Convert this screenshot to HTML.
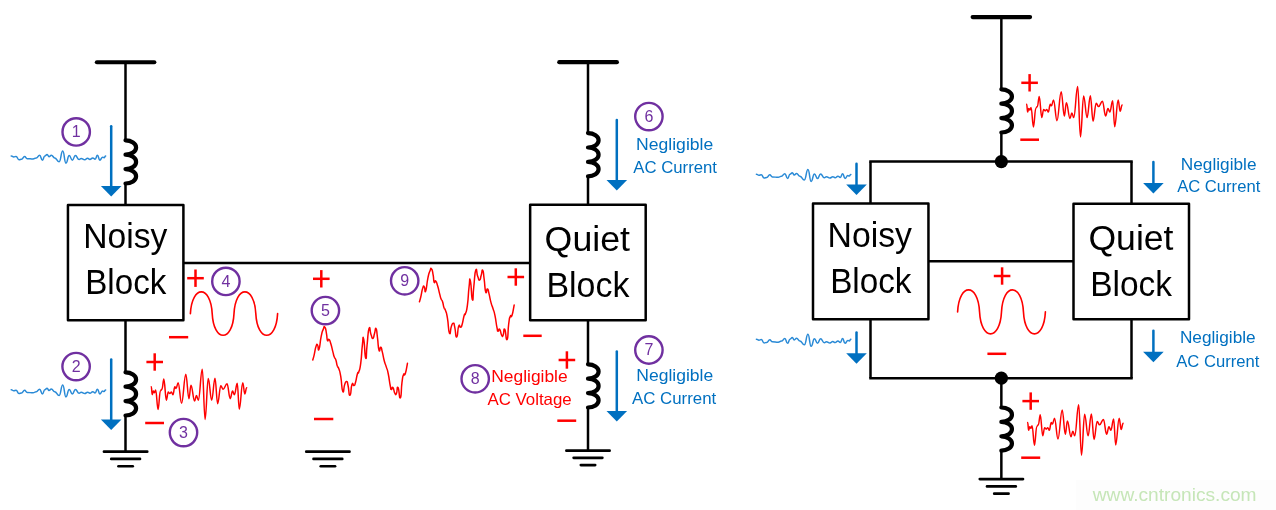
<!DOCTYPE html><html><head><meta charset="utf-8"><title>Diagram</title>
<style>html,body{margin:0;padding:0;background:#fff;}svg{display:block;will-change:transform;}text{font-family:"Liberation Sans",sans-serif;}</style></head><body>
<svg width="1276" height="510" viewBox="0 0 1276 510">
<rect width="1276" height="510" fill="#fff"/>
<line x1="96.9" y1="62.25" x2="154.3" y2="62.25" stroke="#000" stroke-width="4.2" stroke-linecap="round"/>
<line x1="125.5" y1="62" x2="125.5" y2="141" stroke="#000" stroke-width="2.5" stroke-linecap="butt"/>
<path d="M125.5,140.3A10.6,7.2 0 0 1 125.5,154.7A10.6,7.2 0 0 1 125.5,169.1A10.6,7.2 0 0 1 125.5,183.5" fill="none" stroke="#000" stroke-width="4.2" stroke-linecap="round" stroke-linejoin="round"/>
<line x1="125.5" y1="183" x2="125.5" y2="205" stroke="#000" stroke-width="2.5" stroke-linecap="butt"/>
<rect x="67.95" y="204.9" width="115.45" height="115.4" fill="#fff" stroke="#000" stroke-width="2.5" stroke-linejoin="round"/>
<line x1="125.5" y1="320" x2="125.5" y2="372" stroke="#000" stroke-width="2.5" stroke-linecap="butt"/>
<path d="M125.5,372.3A10.6,7.2 0 0 1 125.5,386.7A10.6,7.2 0 0 1 125.5,401.1A10.6,7.2 0 0 1 125.5,415.5" fill="none" stroke="#000" stroke-width="4.2" stroke-linecap="round" stroke-linejoin="round"/>
<line x1="125.5" y1="415" x2="125.5" y2="451.67" stroke="#000" stroke-width="2.5" stroke-linecap="butt"/>
<line x1="103.95" y1="451.67" x2="147.25" y2="451.67" stroke="#000" stroke-width="2.6" stroke-linecap="round"/>
<line x1="111.2" y1="458.9" x2="140" y2="458.9" stroke="#000" stroke-width="2.6" stroke-linecap="round"/>
<line x1="118.4" y1="466.2" x2="132.8" y2="466.2" stroke="#000" stroke-width="2.6" stroke-linecap="round"/>
<line x1="183.5" y1="262.9" x2="530" y2="262.9" stroke="#000" stroke-width="2.5" stroke-linecap="butt"/>
<line x1="559.28" y1="62.15" x2="616.88" y2="62.15" stroke="#000" stroke-width="4.2" stroke-linecap="round"/>
<line x1="588" y1="62" x2="588" y2="134" stroke="#000" stroke-width="2.5" stroke-linecap="butt"/>
<path d="M588,133.1A10.6,7.2 0 0 1 588,147.5A10.6,7.2 0 0 1 588,161.9A10.6,7.2 0 0 1 588,176.3" fill="none" stroke="#000" stroke-width="4.2" stroke-linecap="round" stroke-linejoin="round"/>
<line x1="588" y1="176" x2="588" y2="205" stroke="#000" stroke-width="2.5" stroke-linecap="butt"/>
<rect x="530.15" y="204.85" width="115.55" height="115.45" fill="#fff" stroke="#000" stroke-width="2.5" stroke-linejoin="round"/>
<line x1="588" y1="320" x2="588" y2="364" stroke="#000" stroke-width="2.5" stroke-linecap="butt"/>
<path d="M588,364.3A10.6,7.2 0 0 1 588,378.7A10.6,7.2 0 0 1 588,393.1A10.6,7.2 0 0 1 588,407.5" fill="none" stroke="#000" stroke-width="4.2" stroke-linecap="round" stroke-linejoin="round"/>
<line x1="588" y1="407" x2="588" y2="450.65" stroke="#000" stroke-width="2.5" stroke-linecap="butt"/>
<line x1="566.35" y1="450.65" x2="609.65" y2="450.65" stroke="#000" stroke-width="2.6" stroke-linecap="round"/>
<line x1="573.6" y1="457.85" x2="602.4" y2="457.85" stroke="#000" stroke-width="2.6" stroke-linecap="round"/>
<line x1="580.8" y1="465.1" x2="595.2" y2="465.1" stroke="#000" stroke-width="2.6" stroke-linecap="round"/>
<line x1="306.25" y1="451.67" x2="349.55" y2="451.67" stroke="#000" stroke-width="2.6" stroke-linecap="round"/>
<line x1="313.5" y1="458.9" x2="342.3" y2="458.9" stroke="#000" stroke-width="2.6" stroke-linecap="round"/>
<line x1="320.7" y1="466.2" x2="335.1" y2="466.2" stroke="#000" stroke-width="2.6" stroke-linecap="round"/>
<text x="83.28" y="247.8" font-size="34.5" fill="#000" textLength="84.06" lengthAdjust="spacingAndGlyphs">Noisy</text>
<text x="85.28" y="293.7" font-size="34.5" fill="#000" textLength="81.06" lengthAdjust="spacingAndGlyphs">Block</text>
<text x="544.6" y="251" font-size="34.5" fill="#000" textLength="85.4" lengthAdjust="spacingAndGlyphs">Quiet</text>
<text x="546.46" y="297.3" font-size="34.5" fill="#000" textLength="82.96" lengthAdjust="spacingAndGlyphs">Block</text>
<line x1="111.2" y1="126.2" x2="111.2" y2="187.4" stroke="#0070c0" stroke-width="2.5" stroke-linecap="round"/>
<polygon points="100.9,186.1 121.5,186.1 111.2,196.6" fill="#0070c0"/>
<line x1="111.2" y1="359.6" x2="111.2" y2="420.8" stroke="#0070c0" stroke-width="2.5" stroke-linecap="round"/>
<polygon points="100.9,419.5 121.5,419.5 111.2,430" fill="#0070c0"/>
<line x1="616.8" y1="120" x2="616.8" y2="181.4" stroke="#0070c0" stroke-width="2.5" stroke-linecap="round"/>
<polygon points="606.5,180.1 627.1,180.1 616.8,190.6" fill="#0070c0"/>
<line x1="616.8" y1="351.6" x2="616.8" y2="412.3" stroke="#0070c0" stroke-width="2.5" stroke-linecap="round"/>
<polygon points="606.5,411 627.1,411 616.8,421.5" fill="#0070c0"/>
<circle cx="76.2" cy="131.9" r="13.7" fill="none" stroke="#7030a0" stroke-width="2.4"/>
<text x="76.2" y="137.2" font-size="16" fill="#7030a0" text-anchor="middle">1</text>
<circle cx="76.1" cy="366.6" r="13.7" fill="none" stroke="#7030a0" stroke-width="2.4"/>
<text x="76.1" y="371.9" font-size="16" fill="#7030a0" text-anchor="middle">2</text>
<circle cx="183.5" cy="432.6" r="13.7" fill="none" stroke="#7030a0" stroke-width="2.4"/>
<text x="183.5" y="437.9" font-size="16" fill="#7030a0" text-anchor="middle">3</text>
<circle cx="225.9" cy="281.4" r="13.7" fill="none" stroke="#7030a0" stroke-width="2.4"/>
<text x="225.9" y="286.7" font-size="16" fill="#7030a0" text-anchor="middle">4</text>
<circle cx="325.4" cy="310.6" r="13.7" fill="none" stroke="#7030a0" stroke-width="2.4"/>
<text x="325.4" y="315.9" font-size="16" fill="#7030a0" text-anchor="middle">5</text>
<circle cx="648.9" cy="116.6" r="13.7" fill="none" stroke="#7030a0" stroke-width="2.4"/>
<text x="648.9" y="121.9" font-size="16" fill="#7030a0" text-anchor="middle">6</text>
<circle cx="648.9" cy="350" r="13.7" fill="none" stroke="#7030a0" stroke-width="2.4"/>
<text x="648.9" y="355.3" font-size="16" fill="#7030a0" text-anchor="middle">7</text>
<circle cx="475.2" cy="378.8" r="13.7" fill="none" stroke="#7030a0" stroke-width="2.4"/>
<text x="475.2" y="384.1" font-size="16" fill="#7030a0" text-anchor="middle">8</text>
<circle cx="404.7" cy="280.8" r="13.7" fill="none" stroke="#7030a0" stroke-width="2.4"/>
<text x="404.7" y="286.1" font-size="16" fill="#7030a0" text-anchor="middle">9</text>
<path d="M11.2,156C12.47,156 12.47,156.94 13.74,156.94C14.91,156.94 14.91,156.38 16.09,156.38C17.5,156.38 17.5,159.76 18.91,159.76C20.23,159.76 20.23,159.2 21.55,159.2C23.05,159.2 23.05,156.56 24.56,156.56C25.87,156.56 25.87,158.63 27.19,158.63C30.11,158.63 30.11,159.01 33.02,159.01C34.67,159.01 34.67,157.88 36.31,157.88C37.96,157.88 37.96,155.34 39.61,155.34C41.02,155.34 41.02,160.14 42.43,160.14C43.61,160.14 43.61,156 44.78,156C45.96,156 45.96,154.4 47.13,154.4C48.07,154.4 48.07,156.75 49.01,156.75C50.19,156.75 50.19,155.15 51.37,155.15C53.01,155.15 53.01,157.88 54.66,157.88C56.92,157.88 56.92,161.64 59.17,161.64C60.96,161.64 60.96,151.11 62.75,151.11C64.35,151.11 64.35,163.15 65.95,163.15C67.59,163.15 67.59,155.62 69.24,155.62C70.79,155.62 70.79,160.14 72.34,160.14C73.85,160.14 73.85,155.62 75.36,155.62C77.24,155.62 77.24,159.57 79.12,159.57C80.15,159.57 80.15,158.45 81.19,158.45C82.97,158.45 82.97,159.76 84.76,159.76C86.17,159.76 86.17,158.35 87.58,158.35C88.76,158.35 88.76,159.39 89.94,159.39C91.35,159.39 91.35,157.88 92.76,157.88C93.93,157.88 93.93,159.2 95.11,159.2C96.29,159.2 96.29,155.34 97.46,155.34C98.64,155.34 98.64,160.14 99.81,160.14C101.23,160.14 101.23,157.22 102.64,157.22C103.34,157.22 103.34,157.69 104.05,157.69C104.85,157.69 104.85,156.09 105.65,156.09" fill="none" stroke="#2a8ad6" stroke-width="1.5" stroke-linecap="round" stroke-linejoin="round"/>
<path d="M11.2,389.8C12.47,389.8 12.47,390.74 13.74,390.74C14.91,390.74 14.91,390.18 16.09,390.18C17.5,390.18 17.5,393.56 18.91,393.56C20.23,393.56 20.23,393 21.55,393C23.05,393 23.05,390.36 24.56,390.36C25.87,390.36 25.87,392.43 27.19,392.43C30.11,392.43 30.11,392.81 33.02,392.81C34.67,392.81 34.67,391.68 36.31,391.68C37.96,391.68 37.96,389.14 39.61,389.14C41.02,389.14 41.02,393.94 42.43,393.94C43.61,393.94 43.61,389.8 44.78,389.8C45.96,389.8 45.96,388.2 47.13,388.2C48.07,388.2 48.07,390.55 49.01,390.55C50.19,390.55 50.19,388.95 51.37,388.95C53.01,388.95 53.01,391.68 54.66,391.68C56.92,391.68 56.92,395.44 59.17,395.44C60.96,395.44 60.96,384.91 62.75,384.91C64.35,384.91 64.35,396.95 65.95,396.95C67.59,396.95 67.59,389.42 69.24,389.42C70.79,389.42 70.79,393.94 72.34,393.94C73.85,393.94 73.85,389.42 75.36,389.42C77.24,389.42 77.24,393.37 79.12,393.37C80.15,393.37 80.15,392.25 81.19,392.25C82.97,392.25 82.97,393.56 84.76,393.56C86.17,393.56 86.17,392.15 87.58,392.15C88.76,392.15 88.76,393.19 89.94,393.19C91.35,393.19 91.35,391.68 92.76,391.68C93.93,391.68 93.93,393 95.11,393C96.29,393 96.29,389.14 97.46,389.14C98.64,389.14 98.64,393.94 99.81,393.94C101.23,393.94 101.23,391.02 102.64,391.02C103.34,391.02 103.34,391.49 104.05,391.49C104.85,391.49 104.85,389.89 105.65,389.89" fill="none" stroke="#2a8ad6" stroke-width="1.5" stroke-linecap="round" stroke-linejoin="round"/>
<line x1="146.4" y1="362" x2="163" y2="362" stroke="#ff0000" stroke-width="2.5" stroke-linecap="butt"/>
<line x1="154.7" y1="353.3" x2="154.7" y2="370.7" stroke="#ff0000" stroke-width="2.5" stroke-linecap="butt"/>
<line x1="145.2" y1="423" x2="164" y2="423" stroke="#ff0000" stroke-width="2.5" stroke-linecap="butt"/>
<path d="M151.29,386.86C151.67,386.86 151.86,394.71 152.24,394.71C152.67,394.71 152.89,391.1 153.33,391.1C153.77,391.1 153.99,392.67 154.43,392.67C154.93,392.67 155.18,390 155.69,390C156.63,390 157.1,409.61 158.04,409.61C158.98,409.61 159.45,390.78 160.39,390.78C161.02,390.78 161.33,389.22 161.96,389.22C162.71,389.22 163.09,379.02 163.84,379.02C164.85,379.02 165.35,400.2 166.35,400.2C167.11,400.2 167.48,392.04 168.24,392.04C168.86,392.04 169.18,393.61 169.8,393.61C170.43,393.61 170.75,392.04 171.37,392.04C172,392.04 172.31,394.71 172.94,394.71C173.69,394.71 174.07,386.86 174.82,386.86C175.33,386.86 175.58,388.43 176.08,388.43C176.89,388.43 177.3,382.63 178.12,382.63C179.5,382.63 180.19,403.33 181.57,403.33C183.26,403.33 184.11,374.31 185.8,374.31C187.06,374.31 187.69,398.63 188.94,398.63C189.76,398.63 190.16,385.29 190.98,385.29C192.42,385.29 193.15,400.98 194.59,400.98C195.34,400.98 195.72,395.49 196.47,395.49C197.22,395.49 197.6,400.2 198.35,400.2C199.92,400.2 200.71,369.14 202.27,369.14C203.4,369.14 203.97,419.49 205.1,419.49C206.35,419.49 206.98,378.55 208.24,378.55C209.62,378.55 210.31,400.2 211.69,400.2C213,400.2 213.66,378.24 214.98,378.24C216.05,378.24 216.58,403.8 217.65,403.8C218.9,403.8 219.53,385.76 220.78,385.76C221.73,385.76 222.2,389.22 223.14,389.22C224.71,389.22 225.49,383.73 227.06,383.73C228.31,383.73 228.94,398.63 230.2,398.63C231.14,398.63 231.61,391.1 232.55,391.1C233.3,391.1 233.68,394.71 234.43,394.71C235.56,394.71 236.13,383.25 237.25,383.25C238.07,383.25 238.48,409.29 239.29,409.29C240.67,409.29 241.36,382.63 242.75,382.63C243.56,382.63 243.97,393.92 244.78,393.92C245.54,393.92 245.91,387.65 246.67,387.65" fill="none" stroke="#ff0000" stroke-width="1.5" stroke-linecap="round" stroke-linejoin="round"/>
<line x1="187.2" y1="278.2" x2="203.8" y2="278.2" stroke="#ff0000" stroke-width="2.5" stroke-linecap="butt"/>
<line x1="195.5" y1="269.5" x2="195.5" y2="286.9" stroke="#ff0000" stroke-width="2.5" stroke-linecap="butt"/>
<line x1="169" y1="337.2" x2="188.2" y2="337.2" stroke="#ff0000" stroke-width="2.5" stroke-linecap="butt"/>
<path d="M190.4,313.6C191.93,284.67 210.67,284.67 212.2,313.6C213.73,342.53 232.47,342.53 234,313.6C235.53,284.67 254.27,284.67 255.8,313.6C257.33,342.53 276.07,342.53 277.6,313.6" fill="none" stroke="#ff0000" stroke-width="1.6" stroke-linecap="round" stroke-linejoin="round"/>
<line x1="313" y1="278.8" x2="329.6" y2="278.8" stroke="#ff0000" stroke-width="2.5" stroke-linecap="butt"/>
<line x1="321.3" y1="270.1" x2="321.3" y2="287.5" stroke="#ff0000" stroke-width="2.5" stroke-linecap="butt"/>
<line x1="314" y1="419" x2="333.3" y2="419" stroke="#ff0000" stroke-width="2.5" stroke-linecap="butt"/>
<path d="M312.75,360C313.2,358.37 313.01,359.67 314.12,355.1C315.23,350.52 314.9,349.54 316.08,346.27C317.25,343.01 316.67,344.31 317.65,345.29C318.63,346.27 317.84,352.16 319.02,349.22C320.2,346.27 319.8,343.01 321.18,336.47C322.55,329.93 321.9,332.68 323.14,329.61C324.38,326.54 323.79,325.95 324.9,327.25C326.01,328.56 325.62,329.15 326.47,333.53C327.32,337.91 326.6,338.43 327.45,340.39C328.3,342.35 327.84,338.1 329.02,339.41C330.2,340.72 329.67,340.07 330.98,344.31C332.29,348.56 331.83,347.91 332.94,352.16C334.05,356.41 333.33,354.44 334.31,357.06C335.29,359.67 334.9,357.06 335.88,360C336.86,362.94 336.27,362.94 337.25,365.88C338.24,368.82 337.65,365.23 338.82,368.82C340,372.42 339.48,369.15 340.78,376.67C342.09,384.18 341.44,388.76 342.75,391.37C344.05,393.99 343.4,387.78 344.71,384.51C346.01,381.24 345.56,381.24 346.67,381.57C347.78,381.9 346.93,380.92 348.04,385.49C349.15,390.07 348.69,395.62 350,395.29C351.31,394.97 350.65,387.78 351.96,384.51C353.27,381.24 352.75,386.14 353.92,385.49C355.1,384.84 354.31,386.47 355.49,382.55C356.67,378.63 356.34,377.32 357.45,373.73C358.56,370.13 357.71,375.36 358.82,371.76C359.93,368.17 359.61,371.76 360.78,362.94C361.96,354.12 361.37,353.14 362.35,345.29C363.33,337.45 362.61,335.16 363.73,339.41C364.84,343.66 364.58,356.08 365.69,358.04C366.8,360 365.95,355.1 367.06,345.29C368.17,335.49 367.71,332.22 369.02,328.63C370.33,325.03 369.67,331.24 370.98,334.51C372.29,337.78 371.76,338.76 372.94,338.43C374.12,338.1 373.46,336.8 374.51,333.53C375.56,330.26 375.1,327.32 376.08,328.63C377.06,329.93 376.47,330.26 377.45,337.45C378.43,344.64 377.91,346.93 379.02,350.2C380.13,353.46 379.67,346.6 380.78,347.25C381.9,347.91 381.18,347.58 382.35,352.16C383.53,356.73 383.01,356.08 384.31,360.98C385.62,365.88 384.97,362.61 386.27,366.86C387.58,371.11 386.93,367.52 388.24,373.73C389.54,379.93 389.15,380.26 390.2,385.49C391.24,390.72 390.46,388.76 391.37,389.41C392.29,390.07 391.76,386.14 392.94,387.45C394.12,388.76 393.73,391.37 394.9,393.33C396.08,395.29 395.42,395.29 396.47,393.33C397.52,391.37 396.73,385.95 398.04,387.45C399.35,388.95 399.08,399.48 400.39,397.84C401.7,396.21 400.92,390.26 401.96,382.55C403.01,374.84 402.42,377.65 403.53,374.71C404.64,371.76 403.99,377.52 405.29,373.73C406.6,369.93 406.73,366.8 407.45,363.33" fill="none" stroke="#ff0000" stroke-width="1.5" stroke-linecap="round" stroke-linejoin="round"/>
<path d="M419.45,301.7C419.9,300.07 419.71,301.37 420.82,296.8C421.93,292.22 421.6,291.24 422.78,287.97C423.95,284.71 423.37,286.01 424.35,286.99C425.33,287.97 424.54,293.86 425.72,290.92C426.9,287.97 426.5,284.71 427.88,278.17C429.25,271.63 428.6,274.38 429.84,271.31C431.08,268.24 430.49,267.65 431.6,268.95C432.71,270.26 432.32,270.85 433.17,275.23C434.02,279.61 433.3,280.13 434.15,282.09C435,284.05 434.54,279.8 435.72,281.11C436.9,282.42 436.37,281.77 437.68,286.01C438.99,290.26 438.53,289.61 439.64,293.86C440.75,298.11 440.03,296.14 441.01,298.76C441.99,301.37 441.6,298.76 442.58,301.7C443.56,304.64 442.97,304.64 443.95,307.58C444.94,310.52 444.35,306.93 445.52,310.52C446.7,314.12 446.18,310.85 447.48,318.37C448.79,325.88 448.14,330.46 449.45,333.07C450.75,335.69 450.1,329.48 451.41,326.21C452.71,322.94 452.26,322.94 453.37,323.27C454.48,323.6 453.63,322.62 454.74,327.19C455.85,331.77 455.39,337.32 456.7,336.99C458.01,336.67 457.35,329.48 458.66,326.21C459.97,322.94 459.45,327.84 460.62,327.19C461.8,326.54 461.01,328.17 462.19,324.25C463.37,320.33 463.04,319.02 464.15,315.43C465.26,311.83 464.41,317.06 465.52,313.46C466.63,309.87 466.31,313.46 467.48,304.64C468.66,295.82 468.07,294.84 469.05,286.99C470.03,279.15 469.31,276.86 470.43,281.11C471.54,285.36 471.28,297.78 472.39,299.74C473.5,301.7 472.65,296.8 473.76,286.99C474.87,277.19 474.41,273.92 475.72,270.33C477.03,266.73 476.37,272.94 477.68,276.21C478.99,279.48 478.46,280.46 479.64,280.13C480.82,279.8 480.16,278.5 481.21,275.23C482.26,271.96 481.8,269.02 482.78,270.33C483.76,271.63 483.17,271.96 484.15,279.15C485.13,286.34 484.61,288.63 485.72,291.9C486.83,295.16 486.37,288.3 487.48,288.95C488.6,289.61 487.88,289.28 489.05,293.86C490.23,298.43 489.71,297.78 491.01,302.68C492.32,307.58 491.67,304.31 492.97,308.56C494.28,312.81 493.63,309.22 494.94,315.43C496.24,321.63 495.85,321.96 496.9,327.19C497.94,332.42 497.16,330.46 498.07,331.11C498.99,331.77 498.46,327.84 499.64,329.15C500.82,330.46 500.43,333.07 501.6,335.03C502.78,336.99 502.12,336.99 503.17,335.03C504.22,333.07 503.43,327.65 504.74,329.15C506.05,330.65 505.78,341.18 507.09,339.54C508.4,337.91 507.62,331.96 508.66,324.25C509.71,316.54 509.12,319.35 510.23,316.41C511.34,313.46 510.69,319.22 511.99,315.43C513.3,311.63 513.43,308.5 514.15,305.03" fill="none" stroke="#ff0000" stroke-width="1.5" stroke-linecap="round" stroke-linejoin="round"/>
<line x1="507.5" y1="277" x2="524.1" y2="277" stroke="#ff0000" stroke-width="2.5" stroke-linecap="butt"/>
<line x1="515.8" y1="268.3" x2="515.8" y2="285.7" stroke="#ff0000" stroke-width="2.5" stroke-linecap="butt"/>
<line x1="523.3" y1="335.8" x2="541.7" y2="335.8" stroke="#ff0000" stroke-width="2.5" stroke-linecap="butt"/>
<line x1="558.6" y1="360" x2="575.2" y2="360" stroke="#ff0000" stroke-width="2.5" stroke-linecap="butt"/>
<line x1="566.9" y1="351.3" x2="566.9" y2="368.7" stroke="#ff0000" stroke-width="2.5" stroke-linecap="butt"/>
<line x1="557.3" y1="420.7" x2="576.2" y2="420.7" stroke="#ff0000" stroke-width="2.5" stroke-linecap="butt"/>
<text x="636.1" y="149.8" font-size="16.5" fill="#0070c0" textLength="77.14" lengthAdjust="spacingAndGlyphs">Negligible</text>
<text x="633.24" y="172.7" font-size="16.5" fill="#0070c0" textLength="83.76" lengthAdjust="spacingAndGlyphs">AC Current</text>
<text x="636.26" y="381.2" font-size="16.5" fill="#0070c0" textLength="76.98" lengthAdjust="spacingAndGlyphs">Negligible</text>
<text x="631.92" y="404.1" font-size="16.5" fill="#0070c0" textLength="84.34" lengthAdjust="spacingAndGlyphs">AC Current</text>
<text x="491.26" y="382" font-size="16.5" fill="#ff0000" textLength="76.4" lengthAdjust="spacingAndGlyphs">Negligible</text>
<text x="487.42" y="404.5" font-size="16.5" fill="#ff0000" textLength="84.32" lengthAdjust="spacingAndGlyphs">AC Voltage</text>
<line x1="972.65" y1="17.05" x2="1030.05" y2="17.05" stroke="#000" stroke-width="4.2" stroke-linecap="round"/>
<line x1="1001.35" y1="17" x2="1001.35" y2="90" stroke="#000" stroke-width="2.5" stroke-linecap="butt"/>
<path d="M1001.35,89.3A10.6,7.2 0 0 1 1001.35,103.7A10.6,7.2 0 0 1 1001.35,118.1A10.6,7.2 0 0 1 1001.35,132.5" fill="none" stroke="#000" stroke-width="4.2" stroke-linecap="round" stroke-linejoin="round"/>
<line x1="1001.35" y1="132" x2="1001.35" y2="161.6" stroke="#000" stroke-width="2.5" stroke-linecap="butt"/>
<line x1="869.25" y1="161.6" x2="1132.75" y2="161.6" stroke="#000" stroke-width="2.5" stroke-linecap="butt"/>
<line x1="870.5" y1="161.6" x2="870.5" y2="204" stroke="#000" stroke-width="2.5" stroke-linecap="butt"/>
<line x1="1131.5" y1="161.6" x2="1131.5" y2="204" stroke="#000" stroke-width="2.5" stroke-linecap="butt"/>
<rect x="813" y="203.6" width="115.45" height="115.55" fill="#fff" stroke="#000" stroke-width="2.5" stroke-linejoin="round"/>
<rect x="1073.5" y="203.8" width="115.5" height="115.5" fill="#fff" stroke="#000" stroke-width="2.5" stroke-linejoin="round"/>
<line x1="929" y1="261.3" x2="1074" y2="261.3" stroke="#000" stroke-width="2.5" stroke-linecap="butt"/>
<line x1="870.5" y1="319" x2="870.5" y2="378.15" stroke="#000" stroke-width="2.5" stroke-linecap="butt"/>
<line x1="1131.5" y1="319" x2="1131.5" y2="378.15" stroke="#000" stroke-width="2.5" stroke-linecap="butt"/>
<line x1="869.25" y1="378.15" x2="1132.75" y2="378.15" stroke="#000" stroke-width="2.5" stroke-linecap="butt"/>
<circle cx="1001.35" cy="161.7" r="6.6" fill="#000"/>
<circle cx="1001.35" cy="378.2" r="6.6" fill="#000"/>
<line x1="1001.35" y1="378" x2="1001.35" y2="408" stroke="#000" stroke-width="2.5" stroke-linecap="butt"/>
<path d="M1001.35,407.5A10.6,7.2 0 0 1 1001.35,421.9A10.6,7.2 0 0 1 1001.35,436.3A10.6,7.2 0 0 1 1001.35,450.7" fill="none" stroke="#000" stroke-width="4.2" stroke-linecap="round" stroke-linejoin="round"/>
<line x1="1001.35" y1="450" x2="1001.35" y2="479.1" stroke="#000" stroke-width="2.5" stroke-linecap="butt"/>
<line x1="979.75" y1="479.1" x2="1023.05" y2="479.1" stroke="#000" stroke-width="2.6" stroke-linecap="round"/>
<line x1="987" y1="486.4" x2="1015.8" y2="486.4" stroke="#000" stroke-width="2.6" stroke-linecap="round"/>
<line x1="994.2" y1="493.65" x2="1008.6" y2="493.65" stroke="#000" stroke-width="2.6" stroke-linecap="round"/>
<text x="827.54" y="247.2" font-size="34.5" fill="#000" textLength="84.46" lengthAdjust="spacingAndGlyphs">Noisy</text>
<text x="830.2" y="293.1" font-size="34.5" fill="#000" textLength="81.3" lengthAdjust="spacingAndGlyphs">Block</text>
<text x="1088.44" y="250.1" font-size="34.5" fill="#000" textLength="85.06" lengthAdjust="spacingAndGlyphs">Quiet</text>
<text x="1090.2" y="296.3" font-size="34.5" fill="#000" textLength="81.8" lengthAdjust="spacingAndGlyphs">Block</text>
<line x1="856.5" y1="163.7" x2="856.5" y2="185.9" stroke="#0070c0" stroke-width="2.5" stroke-linecap="round"/>
<polygon points="846.2,184.6 866.8,184.6 856.5,195.1" fill="#0070c0"/>
<line x1="856.5" y1="332.4" x2="856.5" y2="354.5" stroke="#0070c0" stroke-width="2.5" stroke-linecap="round"/>
<polygon points="846.2,353.2 866.8,353.2 856.5,363.7" fill="#0070c0"/>
<line x1="1153.4" y1="162.1" x2="1153.4" y2="184.4" stroke="#0070c0" stroke-width="2.5" stroke-linecap="round"/>
<polygon points="1143.1,183.1 1163.7,183.1 1153.4,193.6" fill="#0070c0"/>
<line x1="1153.4" y1="330.8" x2="1153.4" y2="353.1" stroke="#0070c0" stroke-width="2.5" stroke-linecap="round"/>
<polygon points="1143.1,351.8 1163.7,351.8 1153.4,362.3" fill="#0070c0"/>
<path d="M756.4,174.3C757.67,174.3 757.67,175.24 758.94,175.24C760.11,175.24 760.11,174.68 761.29,174.68C762.7,174.68 762.7,178.06 764.11,178.06C765.43,178.06 765.43,177.5 766.75,177.5C768.25,177.5 768.25,174.86 769.76,174.86C771.07,174.86 771.07,176.93 772.39,176.93C775.31,176.93 775.31,177.31 778.22,177.31C779.87,177.31 779.87,176.18 781.51,176.18C783.16,176.18 783.16,173.64 784.81,173.64C786.22,173.64 786.22,178.44 787.63,178.44C788.81,178.44 788.81,174.3 789.98,174.3C791.16,174.3 791.16,172.7 792.33,172.7C793.27,172.7 793.27,175.05 794.21,175.05C795.39,175.05 795.39,173.45 796.57,173.45C798.21,173.45 798.21,176.18 799.86,176.18C802.12,176.18 802.12,179.94 804.37,179.94C806.16,179.94 806.16,169.41 807.95,169.41C809.55,169.41 809.55,181.45 811.15,181.45C812.79,181.45 812.79,173.92 814.44,173.92C815.99,173.92 815.99,178.44 817.54,178.44C819.05,178.44 819.05,173.92 820.56,173.92C822.44,173.92 822.44,177.87 824.32,177.87C825.35,177.87 825.35,176.75 826.39,176.75C828.17,176.75 828.17,178.06 829.96,178.06C831.37,178.06 831.37,176.65 832.78,176.65C833.96,176.65 833.96,177.69 835.14,177.69C836.55,177.69 836.55,176.18 837.96,176.18C839.13,176.18 839.13,177.5 840.31,177.5C841.49,177.5 841.49,173.64 842.66,173.64C843.84,173.64 843.84,178.44 845.01,178.44C846.43,178.44 846.43,175.52 847.84,175.52C848.54,175.52 848.54,175.99 849.25,175.99C850.05,175.99 850.05,174.39 850.85,174.39" fill="none" stroke="#2a8ad6" stroke-width="1.5" stroke-linecap="round" stroke-linejoin="round"/>
<path d="M756.4,339.2C757.67,339.2 757.67,340.14 758.94,340.14C760.11,340.14 760.11,339.58 761.29,339.58C762.7,339.58 762.7,342.96 764.11,342.96C765.43,342.96 765.43,342.4 766.75,342.4C768.25,342.4 768.25,339.76 769.76,339.76C771.07,339.76 771.07,341.83 772.39,341.83C775.31,341.83 775.31,342.21 778.22,342.21C779.87,342.21 779.87,341.08 781.51,341.08C783.16,341.08 783.16,338.54 784.81,338.54C786.22,338.54 786.22,343.34 787.63,343.34C788.81,343.34 788.81,339.2 789.98,339.2C791.16,339.2 791.16,337.6 792.33,337.6C793.27,337.6 793.27,339.95 794.21,339.95C795.39,339.95 795.39,338.35 796.57,338.35C798.21,338.35 798.21,341.08 799.86,341.08C802.12,341.08 802.12,344.84 804.37,344.84C806.16,344.84 806.16,334.31 807.95,334.31C809.55,334.31 809.55,346.35 811.15,346.35C812.79,346.35 812.79,338.82 814.44,338.82C815.99,338.82 815.99,343.34 817.54,343.34C819.05,343.34 819.05,338.82 820.56,338.82C822.44,338.82 822.44,342.77 824.32,342.77C825.35,342.77 825.35,341.65 826.39,341.65C828.17,341.65 828.17,342.96 829.96,342.96C831.37,342.96 831.37,341.55 832.78,341.55C833.96,341.55 833.96,342.59 835.14,342.59C836.55,342.59 836.55,341.08 837.96,341.08C839.13,341.08 839.13,342.4 840.31,342.4C841.49,342.4 841.49,338.54 842.66,338.54C843.84,338.54 843.84,343.34 845.01,343.34C846.43,343.34 846.43,340.42 847.84,340.42C848.54,340.42 848.54,340.89 849.25,340.89C850.05,340.89 850.05,339.29 850.85,339.29" fill="none" stroke="#2a8ad6" stroke-width="1.5" stroke-linecap="round" stroke-linejoin="round"/>
<line x1="1021.3" y1="82.8" x2="1037.9" y2="82.8" stroke="#ff0000" stroke-width="2.5" stroke-linecap="butt"/>
<line x1="1029.6" y1="74.1" x2="1029.6" y2="91.5" stroke="#ff0000" stroke-width="2.5" stroke-linecap="butt"/>
<line x1="1020.3" y1="139.7" x2="1039" y2="139.7" stroke="#ff0000" stroke-width="2.5" stroke-linecap="butt"/>
<path d="M1026.69,104.26C1027.07,104.26 1027.26,112.11 1027.64,112.11C1028.07,112.11 1028.29,108.5 1028.73,108.5C1029.17,108.5 1029.39,110.07 1029.83,110.07C1030.33,110.07 1030.58,107.4 1031.09,107.4C1032.03,107.4 1032.5,127.01 1033.44,127.01C1034.38,127.01 1034.85,108.18 1035.79,108.18C1036.42,108.18 1036.73,106.62 1037.36,106.62C1038.11,106.62 1038.49,96.42 1039.24,96.42C1040.25,96.42 1040.75,117.6 1041.75,117.6C1042.51,117.6 1042.88,109.44 1043.64,109.44C1044.26,109.44 1044.58,111.01 1045.2,111.01C1045.83,111.01 1046.15,109.44 1046.77,109.44C1047.4,109.44 1047.71,112.11 1048.34,112.11C1049.09,112.11 1049.47,104.26 1050.22,104.26C1050.73,104.26 1050.98,105.83 1051.48,105.83C1052.29,105.83 1052.7,100.03 1053.52,100.03C1054.9,100.03 1055.59,120.73 1056.97,120.73C1058.66,120.73 1059.51,91.71 1061.2,91.71C1062.46,91.71 1063.09,116.03 1064.34,116.03C1065.16,116.03 1065.56,102.69 1066.38,102.69C1067.82,102.69 1068.55,118.38 1069.99,118.38C1070.74,118.38 1071.12,112.89 1071.87,112.89C1072.62,112.89 1073,117.6 1073.75,117.6C1075.32,117.6 1076.11,86.54 1077.67,86.54C1078.8,86.54 1079.37,136.89 1080.5,136.89C1081.75,136.89 1082.38,95.95 1083.64,95.95C1085.02,95.95 1085.71,117.6 1087.09,117.6C1088.4,117.6 1089.06,95.64 1090.38,95.64C1091.45,95.64 1091.98,121.2 1093.05,121.2C1094.3,121.2 1094.93,103.16 1096.18,103.16C1097.13,103.16 1097.6,106.62 1098.54,106.62C1100.11,106.62 1100.89,101.13 1102.46,101.13C1103.71,101.13 1104.34,116.03 1105.6,116.03C1106.54,116.03 1107.01,108.5 1107.95,108.5C1108.7,108.5 1109.08,112.11 1109.83,112.11C1110.96,112.11 1111.53,100.65 1112.65,100.65C1113.47,100.65 1113.88,126.69 1114.69,126.69C1116.07,126.69 1116.76,100.03 1118.15,100.03C1118.96,100.03 1119.37,111.32 1120.18,111.32C1120.94,111.32 1121.31,105.05 1122.07,105.05" fill="none" stroke="#ff0000" stroke-width="1.5" stroke-linecap="round" stroke-linejoin="round"/>
<line x1="1022.4" y1="401.1" x2="1039" y2="401.1" stroke="#ff0000" stroke-width="2.5" stroke-linecap="butt"/>
<line x1="1030.7" y1="392.4" x2="1030.7" y2="409.8" stroke="#ff0000" stroke-width="2.5" stroke-linecap="butt"/>
<line x1="1021.2" y1="457.7" x2="1040.2" y2="457.7" stroke="#ff0000" stroke-width="2.5" stroke-linecap="butt"/>
<path d="M1027.69,422.51C1028.07,422.51 1028.26,430.36 1028.64,430.36C1029.07,430.36 1029.29,426.75 1029.73,426.75C1030.17,426.75 1030.39,428.32 1030.83,428.32C1031.33,428.32 1031.58,425.65 1032.09,425.65C1033.03,425.65 1033.5,445.26 1034.44,445.26C1035.38,445.26 1035.85,426.43 1036.79,426.43C1037.42,426.43 1037.73,424.87 1038.36,424.87C1039.11,424.87 1039.49,414.67 1040.24,414.67C1041.25,414.67 1041.75,435.85 1042.75,435.85C1043.51,435.85 1043.88,427.69 1044.64,427.69C1045.26,427.69 1045.58,429.26 1046.2,429.26C1046.83,429.26 1047.15,427.69 1047.77,427.69C1048.4,427.69 1048.71,430.36 1049.34,430.36C1050.09,430.36 1050.47,422.51 1051.22,422.51C1051.73,422.51 1051.98,424.08 1052.48,424.08C1053.29,424.08 1053.7,418.28 1054.52,418.28C1055.9,418.28 1056.59,438.98 1057.97,438.98C1059.66,438.98 1060.51,409.96 1062.2,409.96C1063.46,409.96 1064.09,434.28 1065.34,434.28C1066.16,434.28 1066.56,420.94 1067.38,420.94C1068.82,420.94 1069.55,436.63 1070.99,436.63C1071.74,436.63 1072.12,431.14 1072.87,431.14C1073.62,431.14 1074,435.85 1074.75,435.85C1076.32,435.85 1077.11,404.79 1078.67,404.79C1079.8,404.79 1080.37,455.14 1081.5,455.14C1082.75,455.14 1083.38,414.2 1084.64,414.2C1086.02,414.2 1086.71,435.85 1088.09,435.85C1089.4,435.85 1090.06,413.89 1091.38,413.89C1092.45,413.89 1092.98,439.45 1094.05,439.45C1095.3,439.45 1095.93,421.41 1097.18,421.41C1098.13,421.41 1098.6,424.87 1099.54,424.87C1101.11,424.87 1101.89,419.38 1103.46,419.38C1104.71,419.38 1105.34,434.28 1106.6,434.28C1107.54,434.28 1108.01,426.75 1108.95,426.75C1109.7,426.75 1110.08,430.36 1110.83,430.36C1111.96,430.36 1112.53,418.9 1113.65,418.9C1114.47,418.9 1114.88,444.94 1115.69,444.94C1117.07,444.94 1117.76,418.28 1119.15,418.28C1119.96,418.28 1120.37,429.57 1121.18,429.57C1121.94,429.57 1122.31,423.3 1123.07,423.3" fill="none" stroke="#ff0000" stroke-width="1.5" stroke-linecap="round" stroke-linejoin="round"/>
<line x1="993.8" y1="276" x2="1010.4" y2="276" stroke="#ff0000" stroke-width="2.5" stroke-linecap="butt"/>
<line x1="1002.1" y1="267.3" x2="1002.1" y2="284.7" stroke="#ff0000" stroke-width="2.5" stroke-linecap="butt"/>
<line x1="987.4" y1="353.8" x2="1006.2" y2="353.8" stroke="#ff0000" stroke-width="2.5" stroke-linecap="butt"/>
<path d="M957.6,311.9C959.14,282.57 978.01,282.57 979.55,311.9C981.09,341.23 999.96,341.23 1001.5,311.9C1003.04,282.57 1021.91,282.57 1023.45,311.9C1024.99,341.23 1043.86,341.23 1045.4,311.9" fill="none" stroke="#ff0000" stroke-width="1.6" stroke-linecap="round" stroke-linejoin="round"/>
<text x="1180.84" y="169.8" font-size="16.5" fill="#0070c0" textLength="75.66" lengthAdjust="spacingAndGlyphs">Negligible</text>
<text x="1177.16" y="192.3" font-size="16.5" fill="#0070c0" textLength="83.1" lengthAdjust="spacingAndGlyphs">AC Current</text>
<text x="1179.92" y="343.4" font-size="16.5" fill="#0070c0" textLength="75.74" lengthAdjust="spacingAndGlyphs">Negligible</text>
<text x="1176.24" y="366.5" font-size="16.5" fill="#0070c0" textLength="83.1" lengthAdjust="spacingAndGlyphs">AC Current</text>
<rect x="1076" y="480" width="200" height="30" fill="#fdfdfd"/>
<text x="1092.74" y="500.6" font-size="19" fill="#c6e6b8" textLength="163.84" lengthAdjust="spacingAndGlyphs">www.cntronics.com</text>
</svg></body></html>
